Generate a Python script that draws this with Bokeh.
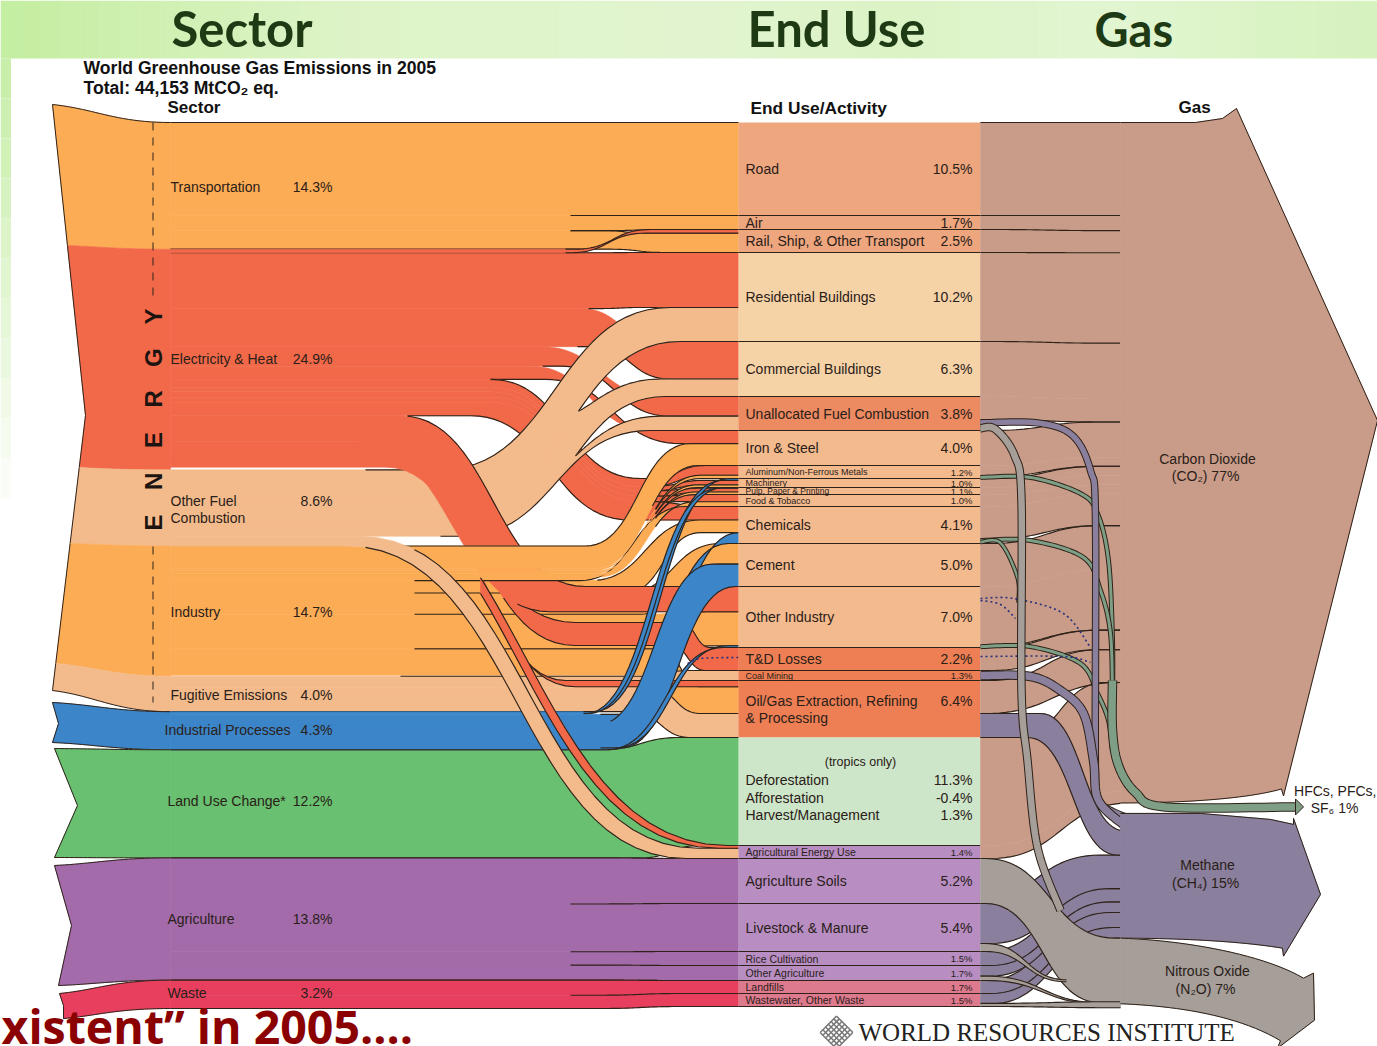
import numpy as np
from bokeh.plotting import figure
from bokeh.models import Range1d
from bokeh.embed import file_html
from bokeh.resources import INLINE
from bokeh.core.properties import value

# ---------- DATA (percent of world emissions) ----------
SECTOR_NAMES = ["Transportation", "Electricity & Heat", "Other Fuel", "Industry", "Fugitive Emissions",
                "Industrial Processes", "Land Use Change*", "Agriculture", "Waste"]
SECTOR_PCT = [14.3, 24.9, 8.6, 14.7, 4.0, 4.3, 12.2, 13.8, 3.2]

USE_NAMES = ["Road", "Air", "Rail, Ship, & Other Transport", "Residential Buildings", "Commercial Buildings",
             "Unallocated Fuel Combustion", "Iron & Steel", "Aluminum/Non-Ferrous Metals", "Machinery",
             "Pulp, Paper & Printing", "Food & Tobacco", "Chemicals", "Cement", "Other Industry", "T&D Losses",
             "Coal Mining", "Oil/Gas Extraction, Refining", "Land", "Agricultural Energy Use", "Agriculture Soils",
             "Livestock & Manure", "Rice Cultivation", "Other Agriculture", "Landfills", "Wastewater, Other Waste"]
USE_PCT = [10.5, 1.7, 2.5, 10.2, 6.3, 3.8, 4.0, 1.2, 1.0, 1.1, 1.0, 4.1, 5.0, 7.0, 2.2, 1.3, 6.4, 12.2, 1.4,
           5.2, 5.4, 1.5, 1.7, 1.7, 1.5]
LAND_ROWS = ["Deforestation", "Afforestation", "Harvest/Management"]
LAND_PCT = [11.3, -0.4, 1.3]

TRANSPORT_FLOWS = [("Road", 10.5), ("Air", 1.7), ("Rail", 2.1)]
ELECTRICITY_FLOWS = [("Rail", 0.4), ("Res", 6.3), ("Com", 4.3), ("Unall", 2.2), ("Iron", 1.5), ("Alum", 0.9),
                     ("Mach", 0.5), ("Pulp", 0.6), ("Food", 0.6), ("Chem", 1.5), ("Other", 2.9), ("TD", 2.2),
                     ("Oil", 0.7), ("AgE", 0.3)]
FUEL_FLOWS = [("Res", 3.9), ("Com", 2.0), ("Unall", 1.6), ("AgE", 1.1)]
INDUSTRY_FLOWS = [("Iron", 2.5), ("Alum", 0.3), ("Mach", 0.3), ("Pulp", 0.4), ("Food", 0.4), ("Chem", 1.4),
                  ("Cement", 2.4), ("Other", 3.9), ("Oil", 3.0)]
FUGITIVE_FLOWS = [("Coal", 1.3), ("Oil", 2.7)]
PROCESS_FLOWS = [("Mach", 0.2), ("Pulp", 0.1), ("Chem", 1.2), ("Cement", 2.6), ("Other", 0.2)]
LAND_FLOWS = [("Land", 12.2)]
AGRI_FLOWS = [("Soils", 5.2), ("Livestock", 5.4), ("Rice", 1.5), ("OtherAg", 1.7)]
WASTE_FLOWS = [("Landfills", 1.7), ("Wastewater", 1.5)]

CO2_FLOWS = [("Road", 10.5), ("Air", 1.7), ("Rail", 2.5), ("Res", 10.2), ("Com", 6.3), ("Unall", 2.6), ("Iron", 4.0),
             ("Alum", 1.0), ("Mach", 1.0), ("Pulp", 1.1), ("Food", 1.0), ("Chem", 3.6), ("Cement", 5.0), ("Other", 6.8),
             ("TD", 2.2), ("Oil", 3.7), ("Land", 12.2), ("AgE", 1.4)]
HFC_FLOWS = [("Alum", 0.2), ("Chem", 0.5), ("Other", 0.2)]
CH4_FLOWS = [("Unall", 0.7), ("Coal", 1.3), ("Oil", 2.7), ("Livestock", 4.5), ("Rice", 1.5), ("OtherAg", 1.2),
             ("Landfills", 1.7), ("Wastewater", 1.2)]
N2O_FLOWS = [("Unall", 0.5), ("Soils", 5.2), ("Livestock", 0.9), ("OtherAg", 0.5), ("Wastewater", 0.3)]

GAS_LABELS = ["Carbon Dioxide", "(CO\u2082)  77%", "Methane", "(CH\u2084)  15%", "Nitrous Oxide", "(N\u2082O)  7%",
              "HFCs, PFCs,", "SF\u2086  1%"]

# ---------- LAYOUT ----------
USE_KEYS = ["Road", "Air", "Rail", "Res", "Com", "Unall", "Iron", "Alum", "Mach", "Pulp", "Food", "Chem", "Cement",
            "Other", "TD", "Coal", "Oil", "Land", "AgE", "Soils", "Livestock", "Rice", "OtherAg", "Landfills", "Wastewater"]
# drawn pixel height of the end-use column at each row boundary (the column is not exactly linear in the picture)
ROW_SCALE_PX = [122, 215, 229, 252, 341, 396, 430, 465, 478, 487, 494, 506, 543, 586, 647, 670, 680, 737, 845, 858,
                903, 951, 965, 980, 993, 1006]
SEC_KEYS = ["T", "E", "Fu", "I", "Fg", "P", "L", "A", "W"]
SEC_FLOWS = [TRANSPORT_FLOWS, ELECTRICITY_FLOWS, FUEL_FLOWS, INDUSTRY_FLOWS, FUGITIVE_FLOWS, PROCESS_FLOWS,
             LAND_FLOWS, AGRI_FLOWS, WASTE_FLOWS]
SEC_COL = dict(T="#FDAC56", E="#F2694A", Fu="#F3BB8C", I="#FDAC56", Fg="#F3BB8C", P="#3B85C8", L="#68C070",
               A="#A36BAA", W="#E83F5E")
ROW_COL = dict(Road="#EEA67F", Air="#EEA67F", Rail="#EEA67F", Res="#F6D3A7", Com="#F6D3A7", Unall="#EC8A62",
               Iron="#F3BA8E", Alum="#F3BA8E", Mach="#F3BA8E", Pulp="#F3BA8E", Food="#F3BA8E", Chem="#F3BA8E",
               Cement="#F3BA8E", Other="#F3BA8E", TD="#EE7F55", Coal="#EE7F55", Oil="#EE7F55", Land="#CDE5C8",
               AgE="#B78DC2", Soils="#B78DC2", Livestock="#B78DC2", Rice="#B78DC2", OtherAg="#B78DC2",
               Landfills="#DE7A8E", Wastewater="#DE7A8E")
CO2C, CH4C, N2OC, HFCC = "#C99C89", "#8A7F9C", "#A59E99", "#7E9F86"
EDGE = "#2e2219"
S = 8.86
Y0 = 122.0
XS, XU, XU2, XG = 170.0, 738.0, 980.0, 1120.0
SANS, HEAD, SERIF = "Liberation Sans", "Lato", "Liberation Serif"

p = figure(width=1377, height=1046, x_range=Range1d(0, 1377), y_range=Range1d(1046, 0),
           output_backend="svg", toolbar_location=None, min_border=0)
p.axis.visible = False
p.grid.visible = False
p.outline_line_color = None
p.background_fill_color = "white"


def bez(x0, x1, y0, y1, n=28):
    t = np.linspace(0, 1, n)
    m = (x0 + x1) / 2
    x = (1-t)**3*x0 + 3*(1-t)**2*t*m + 3*(1-t)*t**2*m + t**3*x1
    y = (1-t)**3*y0 + 3*(1-t)**2*t*y0 + 3*(1-t)*t**2*y1 + t**3*y1
    return x, y


def cub(P, n=24):
    t = np.linspace(0, 1, n)
    x = (1-t)**3*P[0][0] + 3*(1-t)**2*t*P[1][0] + 3*(1-t)*t**2*P[2][0] + t**3*P[3][0]
    y = (1-t)**3*P[0][1] + 3*(1-t)**2*t*P[1][1] + 3*(1-t)*t**2*P[2][1] + t**3*P[3][1]
    return x, y


def path(xs, ys, segs, xe):
    X, Y = [np.array([xs])], [np.array([ys])]
    cy = ys
    for x0, x1, y in segs:
        a, b = bez(x0, x1, cy, y)
        X.append(a); Y.append(b)
        cy = y
    X.append(np.array([xe])); Y.append(np.array([cy]))
    if len(segs) and segs[0][0] < xs:  # curve starts left of the column
        X = X[1:]; Y = Y[1:]
    X = np.maximum.accumulate(np.concatenate(X))
    Y = np.concatenate(Y)
    ystart = float(np.interp(xs, X, Y))
    keep = (X <= xe) & (X >= xs)
    yend = float(np.interp(xe, X, Y))
    X, Y = np.r_[xs, X[keep], xe], np.r_[ystart, Y[keep], yend]
    return X, Y


def joined(x, y, ox, oy, xj):
    """Follow another ribbon's edge up to the notch at xj, then ease back onto this edge's own curve."""
    X = np.unique(np.r_[x, ox[(ox >= x[0]) & (ox <= x[-1])], np.linspace(xj, xj + 60, 16)])
    own = np.interp(X, x, y)
    other = np.interp(X, ox, oy)
    gap = float(np.interp(xj, ox, oy) - np.interp(xj, x, y))
    out = np.where(X < xj, other, own + gap*np.exp(-(X - xj)/14))
    return X, out


def edge(x, y, x0):
    y0 = float(np.interp(x0, x, y))
    k = x > x0
    p.line(np.r_[x0, x[k]], np.r_[y0, y[k]], line_color=EDGE, line_width=1.15)


def ribbon(xs, xe, y0t, y0b, y1t, y1b, top, bot, col, te=None, be=None, tvia=None, bvia=None, tjoin=None):
    tseg = ([tvia] if tvia else []) + [(top[0], top[1], y1t)]
    bseg = ([bvia] if bvia else []) + [(bot[0], bot[1], y1b)]
    tx, ty = path(xs, y0t, tseg, xe)
    bx, by = path(xs, y0b, bseg, xe)
    if tjoin:
        tx, ty = joined(tx, ty, *tjoin)
    p.patch(np.r_[tx, bx[::-1]], np.r_[ty, by[::-1]], fill_color=col, line_color=col, line_width=0.6)
    if te is not None:
        edge(tx, ty, te)
    if be is not None:
        edge(bx, by, be)
    return (tx, ty, bx, by)


def label(x, y, s, size, color="#2a2018", align="left", font=SANS, style="normal", angle=0.0, base="middle"):
    p.text(x=[x], y=[y], text=[s], text_font=value(font), text_font_size=f"{size}px", text_color=color,
           text_align=align, text_baseline=base, text_font_style=style, angle=angle)


def smooth(pts, n=14):
    P = np.array([pts[0]] + list(pts) + [pts[-1]], dtype=float)
    out = []
    t = np.linspace(0, 1, n)[:, None]
    for i in range(1, len(P) - 2):
        a, b, c, d = P[i-1], P[i], P[i+1], P[i+2]
        out.append(0.5*((2*b) + (c-a)*t + (2*a-5*b+4*c-d)*t**2 + (3*b-a-3*c+d)*t**3))
    return np.vstack(out)


def tube(pts, w, col):
    q = smooth(pts)
    p.line(q[:, 0], q[:, 1], line_color=EDGE, line_width=w + 2, line_join="round")
    p.line(q[:, 0], q[:, 1], line_color=col, line_width=w, line_join="round")


# ---------- positions derived from the values ----------
sec_top = Y0 + S*np.r_[0, np.cumsum(SECTOR_PCT)]
src = {}
for k, flows, y in zip(SEC_KEYS, SEC_FLOWS, sec_top):
    for t, v in flows:
        src[(k, t)] = (y, y + v*S)
        y += v*S
cum = np.r_[0, np.cumsum(USE_PCT)]


def ymap(c):
    return float(np.interp(c, cum, ROW_SCALE_PX))


use_cum = dict(zip(USE_KEYS, cum[:-1]))
use_top = {u: ymap(c) for u, c in use_cum.items()}
use_bot = dict(zip(USE_KEYS, ROW_SCALE_PX[1:]))
rank = {k: i for i, k in enumerate(["E", "Fu", "T", "I", "Fg", "P", "L", "A", "W"])}
tgt = {}
for u in USE_KEYS:
    inc = [(k, dict(f)[u]) for k, f in zip(SEC_KEYS, SEC_FLOWS) if u in dict(f)]
    inc.sort(key=lambda a: (-1 if (a[0] == "P" and u in ("Mach", "Pulp")) else rank[a[0]]))
    c = use_cum[u]
    for k, v in inc:
        tgt[(k, u)] = (ymap(c), ymap(c + v))
        c += v


def F(k, u, top=(600, 680), bot=(600, 680), te=None, be=None, tvia=None, bvia=None, xs=XS, tjoin=None):
    a, b = src[(k, u)]
    c, d = tgt[(k, u)]
    return ribbon(xs, XU, a, b, c, d, top, bot, SEC_COL[k], te, be, tvia, bvia, tjoin)


# ---------- background ----------
stops_x = [0, 120, 350, 700, 900, 1100, 1377]
stops_c = [(196, 238, 160), (206, 240, 175), (222, 244, 200), (226, 245, 208), (220, 243, 198), (226, 246, 210), (214, 242, 190)]
edges = np.linspace(0, 1377, 70)
for a, b in zip(edges[:-1], edges[1:]):
    m = (a + b)/2
    c = [int(np.interp(m, stops_x, [s[i] for s in stops_c])) for i in range(3)]
    p.quad(left=a, right=b + 0.5, top=0, bottom=58, fill_color="#%02x%02x%02x" % tuple(c), line_color=None)
for a, b in zip(np.arange(58, 500, 40), np.arange(98, 540, 40)):
    f = (a - 58)/440
    c = [int(200 + (255-200)*f), int(238 + 17*f), int(170 + 85*f)]
    p.quad(left=0, right=10.5, top=a, bottom=b, fill_color="#%02x%02x%02x" % tuple(c), line_color=None)

# ---------- sector tails ----------


def ex(y):
    return 52 + 33*(y-104)/311 if y < 415 else 85 - 33*(y-415)/275


TAILS = [("T", (52, 104), [], (ex(245), 245), True, False),
         ("E", (ex(245), 245), [(85, 415)], (ex(467), 467), False, False),
         ("Fu", (ex(467), 467), [], (ex(543), 543), False, False),
         ("I", (ex(543), 543), [], (ex(663), 663), False, False),
         ("Fg", (ex(663), 663), [], (52, 690), False, True),
         ("P", (52, 702), [(58, 723)], (52, 742), True, True),
         ("L", (54, 748), [(77, 805)], (54, 857), True, True),
         ("A", (54, 865), [(71, 925)], (58, 985), True, True),
         ("W", (59, 993), [(63, 1005)], (63, 1018), True, True)]


def tcurve(yr, xl, yl):
    return cub([(XS, yr), (115, yr), (95, yl + (yr-yl)*0.25), (xl, yl)])


for i, (k, ul, mid, ll, dt, db) in enumerate(TAILS):
    ux, uy = tcurve(sec_top[i], *ul)
    lx, ly = tcurve(sec_top[i+1], *ll)
    mx = [m[0] for m in mid]; my = [m[1] for m in mid]
    p.patch(np.r_[ux, mx, lx[::-1]], np.r_[uy, my, ly[::-1]], fill_color=SEC_COL[k], line_color=SEC_COL[k], line_width=0.6)
    p.line([ul[0]] + mx + [ll[0]], [ul[1]] + my + [ll[1]], line_color=EDGE, line_width=1)
    if dt:
        p.line(ux, uy, line_color=EDGE, line_width=1)
    if db:
        p.line(lx, ly, line_color=EDGE, line_width=1)

# ---------- left-hand flows, back to front ----------
F("T", "Rail", top=(600, 650), bot=(610, 665), te=570, be=XS)
F("T", "Air", be=570)
F("T", "Road", te=XS, be=570)
F("E", "Com", top=(580, 660), bot=(590, 670), be=577)
F("E", "Res", top=(600, 640), bot=(600, 640), te=XS, be=588)
F("E", "Unall", top=(540, 660), bot=(560, 670), be=542)
F("E", "Iron", top=(530, 650), bot=(545, 680), be=490)
e0 = src[("E", "Alum")][0]
for j, u in enumerate(["Alum", "Mach", "Pulp", "Food", "Chem"]):
    a, b = src[("E", u)]
    via_t = (490, 640, 478 + (a - e0))
    via_b = (490, 640, 478 + (b - e0))
    if u == "Chem":
        F("E", u, top=(650, 705), bot=(470, 630), tvia=via_t, te=640, be=407)
    else:
        F("E", u, top=(650, 705), bot=(650, 705), tvia=via_t, bvia=via_b, te=490 if u == "Alum" else 655, be=655)
r = F("Fu", "Res", top=(440, 670), bot=(460, 680), te=365, be=578)
r2 = F("Fu", "Com", top=(460, 660), bot=(480, 665), te=578, be=575, tjoin=(r[2], r[3], 578))
F("Fu", "Unall", top=(470, 660), bot=(460, 650), te=575, be=440, tjoin=(r2[2], r2[3], 575))
F("I", "Oil", top=(660, 700), bot=(650, 690), te=414)
F("I", "Other", top=(640, 710), bot=(650, 720), te=680, be=414)
F("I", "Cement", top=(625, 720), bot=(640, 720), te=633, be=414)
F("I", "Chem", top=(590, 700), bot=(625, 700), te=597, be=414)
F("Fg", "Coal", top=(640, 690), bot=(640, 690), te=400)
F("Fg", "Oil", top=(650, 700), bot=(630, 690), te=650, be=XS)
F("E", "Oil", top=(395, 565), bot=(385, 575), te=503, be=490)
F("E", "TD", top=(680, 710), bot=(670, 705), tvia=(365, 575, 622), bvia=(380, 575, 645), te=517, be=503)
F("E", "Other", top=(400, 585), bot=(355, 550), te=407, be=517)
F("I", "Food", top=(598, 695), bot=(580, 685), te=655, be=414)
F("I", "Pulp", top=(597, 695), bot=(590, 695), te=655, be=655)
F("I", "Mach", top=(596, 697), bot=(592, 697), te=655, be=655)
F("I", "Alum", top=(595, 700), bot=(592, 700), te=655, be=655)
F("I", "Iron", top=(585, 690), bot=(595, 698), te=365, be=652)
F("L", "Land", top=(600, 680), bot=(640, 700), te=XS, be=XS)
F("P", "Mach", top=(593, 728), bot=(587, 722), te=583, be=583)
F("P", "Pulp", top=(588, 723), bot=(583, 718), te=583, be=583)
F("P", "Chem", top=(620, 738), bot=(600, 728), te=600, be=610)
F("P", "Cement", top=(596, 712), bot=(620, 735), te=610, be=600)
F("P", "Other", top=(614, 727), bot=(606, 723), te=600, be=XS)
F("A", "OtherAg", be=XS)
F("A", "Rice", be=570)
F("A", "Livestock", be=570)
F("A", "Soils", te=XS, be=570)
F("W", "Wastewater", be=XS)
F("W", "Landfills", te=XS, be=570)
a, b = src[("Fu", "AgE")]; c, d = tgt[("Fu", "AgE")]
ribbon(XS, XU, a, b, c, d, (358, 698), (346, 686), SEC_COL["Fu"], te=414, be=365)
F("E", "Rail", top=(575, 650), bot=(570, 645), te=565, be=565)
F("E", "AgE", top=(322, 727), bot=(314, 719), te=480, be=480, xs=480)
qy = smooth([(687, 663), (700, 658), (738, 657)])
p.line(qy[:, 0], qy[:, 1], line_color="#27307e", line_width=1.6, line_dash="2 3")

# ---------- energy bracket ----------
p.line([152.5, 152.5], [122, 298], line_color=EDGE, line_width=1, line_dash="8 7")
p.line([152.5, 152.5], [546, 702], line_color=EDGE, line_width=1, line_dash="8 7")
for i, ch in enumerate("ENERGY"):
    label(153, 522 - 41.2*i, ch, 24, color="#1c1410", align="center", style="bold", angle=np.pi/2)

# ---------- end-use column ----------
for u in USE_KEYS:
    p.quad(left=XU, right=XU2, top=use_top[u], bottom=use_bot[u], fill_color=ROW_COL[u], line_color=None)
for u in USE_KEYS[1:]:
    if u != "AgE" and u != "Land":
        p.line([XU, XU2], [use_top[u]]*2, line_color=EDGE, line_width=1.15)
p.line([XU, XU2], [use_top["AgE"]]*2, line_color=EDGE, line_width=1)
p.line([XU, XU2], [use_bot["Wastewater"]]*2, line_color=EDGE, line_width=1)

# ---------- right-hand stacks ----------
row = dict(use_cum)
gsrc = {}
for g, flows in [("CO2", CO2_FLOWS), ("HFC", HFC_FLOWS), ("CH4", CH4_FLOWS), ("N2O", N2O_FLOWS)]:
    for u, v in flows:
        gsrc[(g, u)] = (ymap(row[u]), ymap(row[u] + v))
        row[u] += v
co2_y = Y0
prev = Y0
LINED = {"Road", "Air", "Rail", "Res", "Unall", "Alum", "Chem", "Other", "TD", "Oil", "AgE"}
CO2_SPANS = {"Oil": ((990, 1100), (985, 1120)), "Land": ((1015, 1105), (990, 1130)), "AgE": ((990, 1130), (990, 1130))}
pending = []
for u, v in CO2_FLOWS:
    a, b = gsrc[("CO2", u)]
    gap = a - prev > 0.6
    top, bot = CO2_SPANS.get(u, ((990, 1100), (990, 1100)))
    tx, ty, bx, by = ribbon(XU2, XG, a, b, co2_y, co2_y + v*S, top, bot, CO2C)
    if gap:
        pending.append((tx, ty))
    if u in LINED:
        pending.append((bx, by))
    co2_y += v*S
    prev = b
for ex_, ey_ in pending:
    edge(ex_, ey_, XU2)
p.line([XU2, 1170], [Y0, Y0], line_color=EDGE, line_width=1.15)
# carbon dioxide arrow
tx = np.array([XG, 1195, 1222, 1236])
ty = np.array([Y0, Y0, Y0 - 4, Y0 - 14])
cx, cy = cub([(XG, co2_y), (1190, co2_y), (1250, co2_y - 5), (1281, co2_y - 14)])
ax = np.r_[tx, 1377, 1283, 1281, cx[::-1]]
ay = np.r_[ty, 420, co2_y - 7, co2_y - 14, cy[::-1]]
p.patch(ax, ay, fill_color=CO2C, line_color=CO2C, line_width=0.8)
p.line(np.r_[tx, 1377, 1283, 1281], np.r_[ty, 420, co2_y - 7, co2_y - 14], line_color=EDGE, line_width=1)
p.line(cx, cy, line_color=EDGE, line_width=1)

# HFC tubes and arrow
a, b = gsrc[("HFC", "Alum")]; ym = (a + b)/2
tube([(XU2, ym), (1030, ym), (1080, 493), (1097, 513), (1108, 560), (1112, 640), (1112, 700)], 3, HFCC)
a, b = gsrc[("HFC", "Chem")]; ym = a + 1.5
tube([(XU2, ym), (1030, ym), (1083, 557), (1100, 590), (1110, 633), (1112, 700)], 3, HFCC)
ym = b - 1.5
tube([(XU2, ym), (1000, ym + 1), (1017, 577), (1018, 602)], 2.5, HFCC)
a, b = gsrc[("HFC", "Other")]; ym = (a + b)/2
tube([(XU2, ym), (1030, ym), (1080, 663), (1097, 693), (1108, 720), (1112, 750)], 3, HFCC)
hm = co2_y + 0.45*S
tube([(1112, 680), (1112, 730), (1118, 765), (1135, 792), (1165, hm), (1296, hm)], 7.5, HFCC)
p.patch([1295, 1295, 1303, 1295, 1295], [hm - 4, hm - 8, hm, hm + 8, hm + 4], fill_color=HFCC, line_color=EDGE, line_width=1)
# dotted links
for pts in ([(XU2, 598), (1013, 598), (1063, 613), (1090, 647)],
            [(XU2, 600), (1000, 604), (1015, 618)],
            [(XU2, 656), (1063, 656), (1090, 662)]):
    q = smooth(pts)
    p.line(q[:, 0], q[:, 1], line_color="#27307e", line_width=1.6, line_dash="2 3")

# methane
m_y = co2_y + 0.9*S + 2.5
SQUEEZE = {"Livestock": 0.84}
ch4 = {}
y = m_y
for u, v in CH4_FLOWS:
    th = v*S*SQUEEZE.get(u, 1.0)
    ch4[u] = (y, y + th)
    y += th
m_b = y
a, b = gsrc[("CH4", "Unall")]; ym = (a + b)/2
tube([(XU2, ym), (1037, ym), (1072, 435), (1090, 470), (1095, 520), (1095, 780), (1100, 803), (1126, ch4["Unall"][1] - 2)], 5.5, CH4C)
a, b = gsrc[("CH4", "Coal")]; ym = (a + b)/2
tube([(XU2, ym), (1030, ym + 1), (1060, 690), (1083, 713), (1093, 760), (1098, 800), (1126, ch4["Coal"][1] - 4)], 7.5, CH4C)
SPANS = dict(Oil=((1040, 1125), (1027, 1117)), Livestock=((970, 1100), (990, 1110)), Rice=((985, 1105), (990, 1110)),
             OtherAg=((985, 1105), (990, 1110)), Landfills=((985, 1105), (990, 1112)), Wastewater=((985, 1105), (990, 1110)))
for u in ["Wastewater", "Landfills", "OtherAg", "Rice", "Livestock", "Oil"]:
    a, b = gsrc[("CH4", u)]
    top, bot = SPANS[u]
    ribbon(XU2, XG, a, b, ch4[u][0], ch4[u][1], top, bot, CH4C, te=XU2, be=XU2)
mtx = np.array([XG, 1200, 1270, 1293, 1293])
mty = np.array([m_y, m_y, m_y + 6, m_y + 11, m_y + 5])
mbx, mby = cub([(XG, m_b), (1180, m_b), (1240, m_b + 3), (1282, m_b + 10)])
p.patch(np.r_[mtx, 1320, 1283, mbx[::-1]], np.r_[mty, m_y + 81, m_b + 18, mby[::-1]], fill_color=CH4C, line_color=CH4C, line_width=0.8)
p.line(np.r_[mtx, 1320, 1283, 1282], np.r_[mty, m_y + 81, m_b + 18, m_b + 10], line_color=EDGE, line_width=1)
p.line(mbx, mby, line_color=EDGE, line_width=1)

# nitrous oxide
n_b = m_b + sum(v for _, v in N2O_FLOWS)*S
a, b = gsrc[("N2O", "Soils")]
ribbon(XU2, XG, a, b, m_b, n_b - 1, (985, 1115), (985, 1100), N2OC, te=XU2, be=XU2)
a, b = gsrc[("N2O", "Livestock")]
ribbon(XU2, 1066, a, b, n_b - 24, n_b - 22, (985, 1066), (985, 1066), N2OC, te=XU2, be=XU2)
a, b = gsrc[("N2O", "OtherAg")]
ribbon(XU2, 1100, a, b, n_b - 1, n_b, (985, 1100), (985, 1100), N2OC, te=XU2, be=XU2)
a, b = gsrc[("N2O", "Wastewater")]
ribbon(XU2, XG, a - 0.5, b, n_b - 2, n_b + 4, (990, 1110), (990, 1110), N2OC, te=XU2, be=XU2)
ntx, nty = cub([(XG, m_b), (1180, m_b + 2), (1260, m_b + 15), (1303, m_b + 40)])
nbx, nby = cub([(XG, n_b), (1170, n_b + 2), (1235, n_b + 10), (1280, n_b + 37)])
p.patch(np.r_[ntx, 1313, 1314, 1277, nbx[::-1]], np.r_[nty, m_b + 35, m_b + 82, m_b + 110, nby[::-1]], fill_color=N2OC, line_color=N2OC, line_width=0.8)
p.line(np.r_[ntx, 1313, 1314, 1277, 1280], np.r_[nty, m_b + 35, m_b + 82, m_b + 110, n_b + 37], line_color=EDGE, line_width=1)
p.line(nbx, nby, line_color=EDGE, line_width=1)
a, b = gsrc[("N2O", "Unall")]; ym = (a + b)/2
tube([(XU2, ym), (995, ym + 1), (1014, 455), (1021, 500), (1021, 690), (1027, 760), (1037, 847), (1060, 910)], 6.5, N2OC)

# ---------- texts ----------
label(171, 27, "Sector", 49, color="#1d3a14", font=HEAD, style="bold")
label(747, 27, "End Use", 49, color="#1d3a14", font=HEAD, style="bold")
label(1094, 28, "Gas", 47, color="#1d3a14", font=HEAD, style="bold")
label(83, 67, "World Greenhouse Gas Emissions in 2005", 17.6, color="#111111", style="bold")
label(83, 87, "Total: 44,153 MtCO\u2082 eq.", 17.6, color="#111111", style="bold")
label(167, 107, "Sector", 17, color="#111111", style="bold")
label(750, 107, "End Use/Activity", 17.3, color="#111111", style="bold")
label(1178, 107, "Gas", 17, color="#111111", style="bold")

SEC_X = [170, 170, 170, 170, 170, 164, 167, 167, 167]
SEC_Y = [186, 358, 500, 611, 694, 729, 800, 918, 992]
for i, (nm, v, x, ym) in enumerate(zip(SECTOR_NAMES, SECTOR_PCT, SEC_X, SEC_Y)):
    label(x, ym, nm, 14)
    label(332, ym, f"{v:.1f}%", 14, align="right")
label(170, 517, "Combustion", 14)

SMALL = {"Alum": 9, "Mach": 9, "Pulp": 8.5, "Food": 9, "Coal": 9, "AgE": 10.5, "Rice": 10.5, "OtherAg": 10.5,
         "Landfills": 10.5, "Wastewater": 10.5}
for u, nm, v in zip(USE_KEYS, USE_NAMES, USE_PCT):
    ym = (use_top[u] + use_bot[u])/2
    sz = SMALL.get(u, 14)
    if u == "Land":
        label(860, 761, "(tropics only)", 12.5, align="center")
        for nm2, v2, y2 in zip(LAND_ROWS, LAND_PCT, [779, 797, 814]):
            label(745, y2, nm2, 14)
            label(972, y2, f"{v2:.1f}%", 14, align="right")
    elif u == "Oil":
        label(745, 700, nm, 14); label(745, 717, "& Processing", 14)
        label(972, 700, f"{v:.1f}%", 14, align="right")
    else:
        label(745, ym, nm, sz)
        label(972, ym, f"{v:.1f}%", sz if sz == 14 else 9.5, align="right")

for s, (x, y) in zip(GAS_LABELS, [(1207, 458), (1207, 475), (1207, 864), (1207, 882), (1207, 970), (1207, 988)]):
    label(x, y, s, 14, align="center")
label(1376, 790, GAS_LABELS[6], 14, align="right")
label(1336, 807, GAS_LABELS[7], 14, align="center")

label(1, 1025.5, "xistent\u201d in 2005....", 46.5, color="#8b0000", font="Open Sans", style="bold")
label(858, 1032, "WORLD RESOURCES INSTITUTE", 25, color="#222222", font=SERIF)
for k in np.arange(-9, 10, 3):
    u = np.array([-9.0, 9.0])
    for xx, yy in ((u + k, u - k), (k + u, k - u)):
        p.line(836 + xx/1.1, 1032 + yy/1.1, line_color="#777777", line_width=1.5)

open("out.html", "w").write(file_html(p, INLINE))
